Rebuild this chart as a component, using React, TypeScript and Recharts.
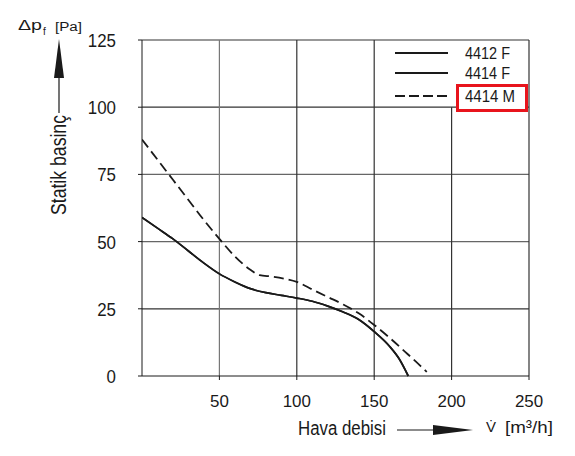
import React from 'react';
import { LineChart, Line, XAxis, YAxis, ReferenceLine } from 'recharts';

// flow [m3/h] vs static pressure [Pa]
const solidFlow = [0, 10, 20, 30, 40, 50, 60, 70, 80, 90, 100, 110, 120, 130, 140, 150, 160, 166, 172];
const p4412F = [59, 55, 51, 46.5, 42, 38, 35, 32.5, 31, 30, 29, 27.8, 26, 23.8, 21, 16.5, 11, 6.5, 0];
const p4414F = [59, 55, 51, 46.5, 42, 38, 35, 32.5, 31, 30, 29, 27.8, 26, 23.8, 21, 16.5, 11, 6.5, 0];
const dashedFlow = [0, 10, 20, 30, 40, 50, 60, 70, 76, 84, 92, 100, 110, 120, 130, 140, 150, 160, 170, 180, 184];
const p4414M = [88, 80.5, 73, 65.5, 58, 51, 44.5, 39.5, 37.5, 37, 36.2, 35, 32.2, 29.4, 26.6, 23.3, 19, 14.2, 9, 3.7, 1.5];

const xTicks = [50, 100, 150, 200, 250];
const yTicks = [0, 25, 50, 75, 100, 125];
const seriesNames = ['4412 F', '4414 F', '4414 M'];

const toPoints = (xs: number[], ys: number[]) => xs.map((flow, i) => ({ flow, p: ys[i] }));

const sans = "'Liberation Sans', Arial, Helvetica, sans-serif";
const ink = '#1a1a1a';

// the catalogue uses a condensed face, so squeeze the text to its measured width
const YTick = (props: any) => {
  const { x, y, payload } = props;
  const s = String(payload.value);
  return (
    <text x={x} y={y + 7} textAnchor="end" fontSize={19} fontFamily={sans} fill={ink} textLength={9.4 * s.length} lengthAdjust="spacingAndGlyphs">
      {s}
    </text>
  );
};

const XTick = (props: any) => {
  const { x, y, payload } = props;
  const s = String(payload.value);
  return (
    <text x={x} y={y + 12} textAnchor="middle" fontSize={16} fontFamily={sans} fill={ink} textLength={9.4 * s.length} lengthAdjust="spacingAndGlyphs">
      {s}
    </text>
  );
};

export default function App() {
  const legendRows = [53, 73, 96];
  return (
    <div style={{ position: 'absolute', left: 0, top: 0, width: 575, height: 456, background: '#fff' }}>
      <LineChart width={575} height={456} margin={{ top: 40, right: 46, bottom: 50, left: 0 }}>
        <XAxis
          type="number"
          dataKey="flow"
          domain={[0, 250]}
          ticks={xTicks}
          allowDataOverflow
          tickSize={4}
          tickMargin={15}
          height={30}
          stroke={ink}
          tick={<XTick />}
        />
        <YAxis
          type="number"
          domain={[0, 125]}
          ticks={yTicks}
          width={142}
          tickSize={4}
          tickMargin={22}
          stroke={ink}
          tick={<YTick />}
        />
        {[25, 50, 75, 100].map((v) => (
          <ReferenceLine key={'h' + v} y={v} stroke={v === 50 || v === 75 ? '#666' : '#333'} strokeWidth={1.2} />
        ))}
        <ReferenceLine y={125} stroke="#333" strokeWidth={1.2} />
        {[50, 100, 150].map((v) => (
          <ReferenceLine key={'v' + v} x={v} stroke={v === 50 ? '#777' : '#333'} strokeWidth={1.2} />
        ))}
        <ReferenceLine segment={[{ x: 200, y: 0 }, { x: 200, y: 100 }]} stroke="#333" strokeWidth={1.2} />
        <ReferenceLine x={250} stroke="#333" strokeWidth={1.2} />
        <Line data={toPoints(solidFlow, p4412F)} dataKey="p" name={seriesNames[0]} type="monotone" stroke={ink} strokeWidth={1.7} dot={false} isAnimationActive={false} />
        <Line data={toPoints(solidFlow, p4414F)} dataKey="p" name={seriesNames[1]} type="monotone" stroke={ink} strokeWidth={1.7} dot={false} isAnimationActive={false} />
        <Line data={toPoints(dashedFlow, p4414M)} dataKey="p" name={seriesNames[2]} type="monotone" stroke={ink} strokeWidth={1.8} strokeDasharray="10 5" dot={false} isAnimationActive={false} />
      </LineChart>
      <svg width={575} height={456} style={{ position: 'absolute', left: 0, top: 0, pointerEvents: 'none' }}>
        {/* legend */}
        <rect x={457.5} y={85.5} width={69} height={25} fill="#fff" stroke="#e8141c" strokeWidth={3} />
        {seriesNames.map((name, i) => (
          <g key={name}>
            <line x1={395} y1={legendRows[i]} x2={448} y2={legendRows[i]} stroke={ink} strokeWidth={2} strokeDasharray={i === 2 ? '10 4' : undefined} />
            <text x={465} y={legendRows[i] + 6} fontSize={16} fontFamily={sans} fill={ink} textLength={i === 2 ? 50 : 45} lengthAdjust="spacingAndGlyphs">{name}</text>
          </g>
        ))}
        {/* y axis title with arrow */}
        <text x={18} y={30} fontSize={15} fontFamily={sans} fill={ink} textLength={24} lengthAdjust="spacingAndGlyphs">Δp</text>
        <text x={43} y={35} fontSize={10} fontFamily={sans} fill={ink}>f</text>
        <text x={55} y={31} fontSize={12} fontFamily={sans} fill={ink} textLength={27} lengthAdjust="spacingAndGlyphs">[Pa]</text>
        <line x1={59} y1={113} x2={59} y2={78} stroke={ink} strokeWidth={1.2} />
        <polygon points="54,78 64,78 59,39" fill={ink} />
        <text x={0} y={0} transform="translate(66,165) rotate(-90)" textAnchor="middle" fontSize={22} fontFamily={sans} fill={ink} textLength={100} lengthAdjust="spacingAndGlyphs">Statik basinç</text>
        {/* x axis title with arrow */}
        <text x={298} y={435} fontSize={20} fontFamily={sans} fill={ink} textLength={88} lengthAdjust="spacingAndGlyphs">Hava debisi</text>
        <line x1={397} y1={430} x2={433} y2={430} stroke={ink} strokeWidth={1.2} />
        <polygon points="433,425 433,435 473,430" fill={ink} />
        <text x={486} y={432} fontSize={15} fontFamily={sans} fill={ink}>V̇</text>
        <text x={505} y={433} fontSize={17} fontFamily={sans} fill={ink} textLength={48} lengthAdjust="spacingAndGlyphs">[m³/h]</text>
      </svg>
    </div>
  );
}
